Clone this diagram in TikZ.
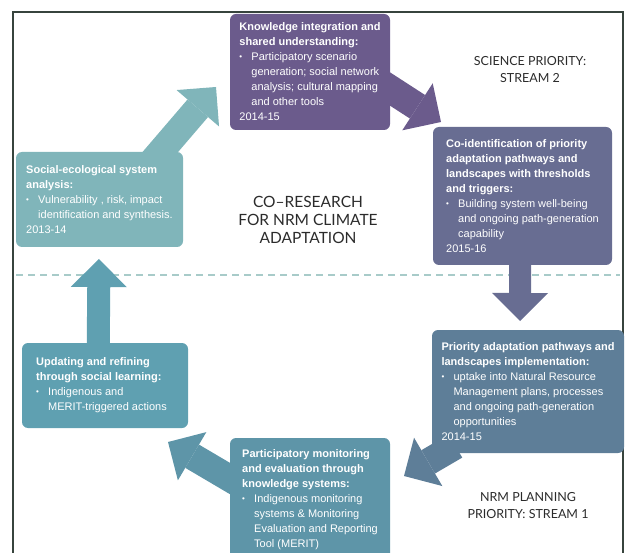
\documentclass[tikz,border=0pt]{standalone}
\usepackage{fontspec}
\setmainfont{Liberation Sans}
\newfontfamily\labelfont{Lato}
\usetikzlibrary{arrows.meta}
\pgfdeclarelayer{background}
\pgfsetlayers{background,main}
\definecolor{kicol}{HTML}{6B5B8C}
\definecolor{cicol}{HTML}{686D92}
\definecolor{picol}{HTML}{5E7E98}
\definecolor{pmcol}{HTML}{5E95A8}
\definecolor{urcol}{HTML}{5FA0B1}
\definecolor{sescol}{HTML}{80B5BA}
\definecolor{framecol}{HTML}{37443D}
\definecolor{dashcol}{HTML}{A8CBC9}
\definecolor{labcol}{HTML}{2B2B2B}
\tikzstyle{stagebox}=[rectangle,rounded corners=6pt,text=white,align=left,inner sep=0pt,outer sep=0pt,anchor=north west,font=\fontsize{11}{15}\selectfont]
\tikzstyle{flow}=[shorten <=-14pt,-{Triangle[width=56pt,length=28pt,line width=0pt]}]
\tikzstyle{title}=[align=center,text=labcol,font=\labelfont\fontsize{15.5}{18}\selectfont]
\tikzstyle{stream}=[align=center,text=labcol,font=\labelfont\fontsize{12.5}{17}\selectfont]
\tikzstyle{frameline}=[draw=framecol,line width=2.5pt]
\tikzstyle{divider}=[draw=dashcol,line width=1.5pt,dash pattern=on 7pt off 5pt]
\newcommand{\bpt}{\makebox[12pt][l]{\raisebox{1pt}{\fontsize{8}{8}\selectfont\textbullet}}}
\newcommand{\bcont}{\hspace*{12pt}}

\begin{document}
\begin{tikzpicture}[x=1pt,y=-1pt]
    \useasboundingbox (0,0) rectangle (626,553);
    % The six stages of the cycle
    \node[stagebox,fill=sescol,minimum width=167pt,minimum height=95pt] (SES) at (16,152)
        {\textbf{Social-ecological system}\\ \textbf{analysis:}\\ \bpt Vulnerability , risk, impact\\ \bcont identification and synthesis.\\ 2013-14};
    \node[stagebox,fill=kicol,minimum width=160pt,minimum height=116pt] (KI) at (230,14)
        {\textbf{Knowledge integration and}\\ \textbf{shared understanding:}\\ \bpt Participatory scenario\\ \bcont generation; social network\\ \bcont analysis; cultural mapping\\ \bcont and other tools\\ 2014-15};
    \node[stagebox,fill=cicol,minimum width=179pt,minimum height=138pt] (CI) at (433,127)
        {\textbf{Co-identification of priority}\\ \textbf{adaptation pathways and}\\ \textbf{landscapes with thresholds}\\ \textbf{and triggers:}\\ \bpt Building system well-being\\ \bcont and ongoing path-generation\\ \bcont capability\\ 2015-16};
    \node[stagebox,fill=picol,minimum width=192pt,minimum height=123pt] (PI) at (432,330)
        {\textbf{Priority adaptation pathways and}\\ \textbf{landscapes implementation:}\\ \bpt uptake into Natural Resource\\ \bcont Management plans, processes\\ \bcont and ongoing path-generation\\ \bcont opportunities\\ 2014-15};
    \node[stagebox,fill=pmcol,minimum width=160pt,minimum height=124pt] (PM) at (230,438)
        {\textbf{Participatory monitoring}\\ \textbf{and evaluation through}\\ \textbf{knowledge systems:}\\ \bpt Indigenous monitoring\\ \bcont systems \& Monitoring\\ \bcont Evaluation and Reporting\\ \bcont Tool (MERIT)};
    \node[stagebox,fill=urcol,minimum width=166pt,minimum height=85pt] (UR) at (22,343)
        {\textbf{Updating and refining}\\ \textbf{through social learning:}\\ \bpt Indigenous and\\ \bcont MERIT-triggered actions\hspace*{7pt}};
    % Titles
    \node[title] (CR) at (308,220) {CO–RESEARCH\\FOR NRM CLIMATE\\ADAPTATION};
    \node[stream] (S2) at (530,70) {SCIENCE PRIORITY:\\STREAM 2};
    \node[stream] (S1) at (528,506) {NRM PLANNING\\PRIORITY: STREAM 1};
    % Arrow tips
    \coordinate (SES_tip) at (216,87);
    \coordinate (KI_tip) at (441,122);
    \coordinate (CI_tip) at (520,321);
    \coordinate (PI_tip) at (404,476);
    \coordinate (PM_tip) at (168,442);
    \coordinate (UR_tip) at (99,259);
    \begin{pgfonlayer}{background}
        \draw[frameline] (13,553) -- (13,12) -- (623,12) -- (623,553);
        \draw[divider] (16,275) -- (620,275);
        % Connect the stages with the big arrows
        \foreach \source/\dest/\col/\lw in {SES.38/SES_tip/sescol/27pt, KI.-12/KI_tip/kicol/28pt, CI.-92/CI_tip/cicol/22pt,
                                            PI.-144/PI_tip/picol/27pt, PM.165/PM_tip/pmcol/27pt, UR.99/UR_tip/urcol/23pt}
            \draw[flow,\col,line width=\lw] (\source) -- (\dest);
    \end{pgfonlayer}
\end{tikzpicture}
\end{document}
